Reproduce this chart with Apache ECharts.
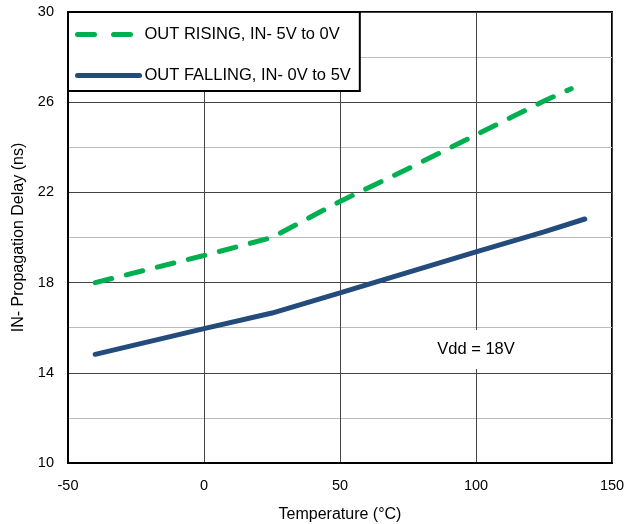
<!DOCTYPE html>
<html>
<head>
<meta charset="utf-8">
<script src="https://cdn.jsdelivr.net/npm/echarts@6/dist/echarts.min.js"></script>
<style>
  html, body { margin: 0; padding: 0; background: #fff; }
  #chart { width: 628px; height: 524px; }
</style>
</head>
<body>
<div id="chart"></div>
<script>
  // temperatures (°C) and delays (ns)
  const risingTemp = [-40, 0, 25, 50, 75, 100, 125, 135]
  const risingDelay = [18.0, 19.2, 20.0, 21.6, 23.05, 24.55, 26.05, 26.6]
  const fallingTemp = [-40, 0, 25, 50, 75, 100, 125, 140]
  const fallingDelay = [14.82, 15.96, 16.65, 17.54, 18.45, 19.36, 20.25, 20.82]
  const seriesNames = ['OUT RISING, IN- 5V to 0V', 'OUT FALLING, IN- 0V to 5V']

  const pairs = (xs, ys) => xs.map((x, i) => [x, ys[i]])
  const font = 'Liberation Sans, Arial, sans-serif'
  const green = '#00b050'
  const blue = '#234b7c'

  const chart = echarts.init(document.getElementById('chart'))
  chart.setOption({
    animation: false,
    textStyle: {fontFamily: font},
    grid: {
      left: 68, right: 16, top: 12, bottom: 61,
      outerBoundsMode: 'none',
      containLabel: false,
      show: true, borderColor: '#000', borderWidth: 2, backgroundColor: 'transparent'
    },
    legend: {
      orient: 'vertical',
      left: 68, top: 12,
      backgroundColor: '#fff',
      borderColor: '#000',
      borderWidth: 2,
      borderRadius: 0,
      padding: [14, 9, 7, 7],
      itemGap: 24,
      itemWidth: 62,
      itemHeight: 18,
      textStyle: {fontSize: 16.5, color: '#000', fontFamily: font, padding: [0, 0, 0, 0]},
      data: [
        {name: seriesNames[0], itemStyle: {opacity: 0}, lineStyle: {width: 5, color: green, type: [17, 19], cap: 'round'}},
        {name: seriesNames[1], itemStyle: {opacity: 0}, lineStyle: {width: 5, color: blue, type: 'solid', cap: 'round'}}
      ]
    },
    xAxis: {
      type: 'value',
      min: -50, max: 150, interval: 50,
      name: 'Temperature (°C)',
      nameLocation: 'middle',
      nameGap: 44,
      nameTextStyle: {fontSize: 16, color: '#000'},
      axisLine: {show: true, onZero: false, lineStyle: {color: '#000', width: 2}},
      axisTick: {show: false},
      axisLabel: {fontSize: 14.5, color: '#000', margin: 15},
      splitLine: {show: true, lineStyle: {color: '#444', width: 1}}
    },
    yAxis: {
      type: 'value',
      min: 10, max: 30, interval: 2,
      name: 'IN- Propagation Delay (ns)',
      nameLocation: 'middle',
      nameGap: 37,
      nameTextStyle: {fontSize: 16, color: '#000'},
      axisLine: {show: true, onZero: false, lineStyle: {color: '#000', width: 2}},
      axisTick: {show: false},
      axisLabel: {
        fontSize: 14.5, color: '#000', margin: 14,
        formatter: v => ((v - 10) % 4 === 0 ? String(v) : '')
      },
      splitLine: {show: true, lineStyle: {color: ['#444', '#bbb'], width: 1}}
    },
    series: [
      {
        name: seriesNames[0],
        type: 'line',
        data: pairs(risingTemp, risingDelay),
        showSymbol: false,
        symbol: 'none',
        lineStyle: {color: green, width: 5, type: [17, 15], cap: 'round'},
        itemStyle: {color: green},
        z: 3
      },
      {
        name: seriesNames[1],
        type: 'line',
        data: pairs(fallingTemp, fallingDelay),
        showSymbol: false,
        symbol: 'none',
        lineStyle: {color: blue, width: 5, cap: 'round'},
        itemStyle: {color: blue},
        z: 3,
        markPoint: {
          symbol: 'rect',
          symbolSize: 0,
          data: [{coord: [100, 15.03], value: 'Vdd = 18V'}],
          label: {
            show: true,
            position: 'inside',
            formatter: 'Vdd = 18V',
            fontSize: 16.5,
            color: '#000',
            backgroundColor: '#fff',
            padding: [11, 6, 11, 6]
          }
        }
      }
    ]
  })
</script>
</body>
</html>
